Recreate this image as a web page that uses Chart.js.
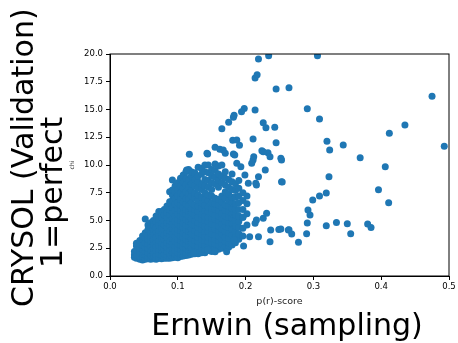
<!DOCTYPE html>
<html>
<head>
<meta charset="utf-8">
<script src="https://cdn.jsdelivr.net/npm/chart.js@4/dist/chart.umd.min.js"></script>
<style>
  html, body { margin: 0; padding: 0; background: #fff; }
  canvas { display: block; }
</style>
</head>
<body>
<canvas id="chart" width="458" height="343"></canvas>
<script>
// tick labels
const xTickLabels = ['0.0', '0.1', '0.2', '0.3', '0.4', '0.5'];
const yTickLabels = ['0.0', '2.5', '5.0', '7.5', '10.0', '12.5', '15.0', '17.5', '20.0'];

// dense cluster, read column by column: [p(r)-score, [chi values]]
const coreColumns = [
    [0.036, [1.7, 1.9, 2.2]],
    [0.039, [1.6, 1.9, 2.3, 2.7, 2.94]],
    [0.044, [1.5, 1.8, 2.1, 2.5, 2.9, 3.2]],
    [0.048, [1.45, 1.75, 2.0, 2.4, 2.8, 3.3, 3.6]],
    [0.052, [1.5, 1.9, 2.2, 2.6, 3.0, 3.5, 3.9, 5.14]],
    [0.056, [1.55, 1.8, 2.1, 2.5, 2.9, 3.3, 3.7, 4.2, 4.6]],
    [0.060, [1.5, 1.9, 2.3, 2.7, 3.1, 3.5, 3.9, 4.4, 4.8]],
    [0.064, [1.55, 1.8, 2.1, 2.5, 2.9, 3.3, 3.8, 4.2, 4.6, 5.0]],
    [0.068, [1.5, 1.9, 2.3, 2.7, 3.1, 3.5, 4.0, 4.4, 4.9, 5.4]],
    [0.072, [1.6, 2.0, 2.4, 2.8, 3.2, 3.7, 4.1, 4.6, 5.1, 5.8]],
    [0.076, [1.55, 1.9, 2.3, 2.6, 3.0, 3.4, 3.9, 4.3, 4.8, 5.3, 5.8]],
    [0.080, [1.6, 2.0, 2.4, 2.8, 3.3, 3.7, 4.2, 4.6, 5.0, 5.5, 6.0]],
    [0.084, [1.6, 1.9, 2.2, 2.6, 3.0, 3.5, 3.9, 4.4, 4.8, 5.3, 5.7, 6.3]],
    [0.088, [1.6, 2.0, 2.4, 2.8, 3.2, 3.6, 4.1, 4.5, 5.0, 5.5, 6.0, 6.7, 7.6]],
    [0.092, [1.65, 2.1, 2.5, 2.9, 3.4, 3.8, 4.3, 4.7, 5.2, 5.7, 6.2, 6.8, 7.3, 7.75, 8.65]],
    [0.096, [1.7, 2.0, 2.3, 2.7, 3.1, 3.6, 4.0, 4.5, 4.9, 5.4, 5.9, 6.5, 7.0, 7.6, 8.1]],
    [0.100, [1.65, 2.1, 2.5, 2.9, 3.3, 3.8, 4.2, 4.7, 5.1, 5.6, 6.1, 6.6, 7.2, 7.8, 8.4]],
    [0.104, [1.75, 2.0, 2.4, 2.8, 3.2, 3.6, 4.1, 4.5, 5.0, 5.4, 5.9, 6.4, 6.9, 7.5, 8.1, 8.8]],
    [0.108, [1.8, 2.2, 2.6, 3.0, 3.5, 3.9, 4.4, 4.8, 5.3, 5.7, 6.2, 6.7, 7.3, 7.9, 8.5, 9.1]],
    [0.112, [1.85, 2.1, 2.5, 2.9, 3.3, 3.7, 4.2, 4.6, 5.1, 5.6, 6.0, 6.5, 7.0, 7.6, 8.2, 8.8, 9.4]],
    [0.116, [1.9, 2.3, 2.7, 3.1, 3.6, 4.0, 4.5, 4.9, 5.4, 5.8, 6.3, 6.9, 7.4, 8.0, 8.6, 9.6]],
    [0.120, [1.95, 2.2, 2.6, 3.0, 3.4, 3.8, 4.3, 4.7, 5.2, 5.7, 6.1, 6.6, 7.2, 7.7, 8.3, 9.0, 9.4]],
    [0.125, [2.0, 2.4, 2.8, 3.2, 3.7, 4.1, 4.6, 5.0, 5.5, 6.0, 6.4, 7.0, 7.5, 8.1, 8.7, 9.3]],
    [0.130, [2.0, 2.3, 2.7, 3.1, 3.5, 3.9, 4.4, 4.8, 5.3, 5.8, 6.3, 6.8, 7.3, 7.9, 8.5, 9.0, 9.8]],
    [0.135, [2.1, 2.5, 2.9, 3.3, 3.8, 4.2, 4.7, 5.1, 5.6, 6.1, 6.6, 7.1, 7.8, 8.3, 9.2, 9.7]],
    [0.140, [2.1, 2.4, 2.8, 3.2, 3.6, 4.0, 4.5, 5.0, 5.4, 5.9, 6.4, 6.9, 7.5, 8.1, 8.7, 9.4, 10.0]],
    [0.145, [2.3, 2.7, 3.1, 3.5, 4.0, 4.4, 4.9, 5.3, 5.8, 6.2, 6.8, 7.3, 8.0, 8.6, 9.3, 10.0]],
    [0.150, [2.2, 2.6, 3.0, 3.4, 3.8, 4.3, 4.7, 5.2, 5.7, 6.1, 6.6, 7.2, 7.8, 8.4, 9.0, 9.6]],
    [0.155, [2.5, 2.9, 3.3, 3.7, 4.2, 4.6, 5.1, 5.5, 6.0, 6.5, 7.0, 8.3, 8.9, 9.5, 10.1]],
    [0.160, [2.4, 2.8, 3.2, 3.6, 4.1, 4.5, 5.0, 5.4, 5.9, 6.4, 6.9, 8.0, 8.6, 9.2, 9.9]],
    [0.165, [2.5, 2.9, 3.3, 3.8, 4.2, 4.7, 5.2, 5.6, 6.2, 6.7, 7.2, 8.4, 9.0, 10.0]],
    [0.170, [2.7, 3.1, 3.5, 4.0, 4.5, 4.9, 5.4, 5.9, 6.4, 7.0, 7.6, 8.2, 8.8, 9.4]],
    [0.175, [2.6, 3.0, 3.4, 3.9, 4.4, 4.8, 5.3, 5.8, 6.3, 6.8, 7.4, 8.0, 8.7]],
    [0.180, [2.8, 3.7, 4.2, 4.7, 5.2, 5.6, 6.1, 6.6, 7.1, 7.8, 8.5, 9.2]],
    [0.185, [3.0, 3.5, 4.0, 4.5, 5.0, 5.5, 6.0, 6.5, 7.1, 7.7, 8.3]],
    [0.190, [3.3, 3.8, 4.4, 4.9, 5.4, 6.0, 6.6, 7.2, 7.9, 8.6]],
    [0.196, [3.6, 5.3, 6.0, 6.8, 7.5]],
    [0.202, [4.6, 5.6, 6.5, 7.2]]
];

// scattered points around the cluster edge: [p(r)-score, chi]
const spreadScores = [
    [0.219, 19.55], [0.234, 19.85], [0.214, 17.84], [0.217, 18.14], [0.245, 16.85],
    [0.198, 15.1], [0.194, 14.8], [0.214, 14.95], [0.183, 14.48], [0.182, 14.3],
    [0.175, 13.85], [0.165, 13.27], [0.226, 13.8], [0.230, 13.36], [0.243, 13.4],
    [0.245, 12.0], [0.211, 12.34], [0.181, 12.22], [0.187, 12.25], [0.191, 11.77],
    [0.155, 11.59], [0.162, 11.41], [0.170, 11.05], [0.144, 10.99], [0.117, 10.96],
    [0.182, 10.99], [0.224, 11.29], [0.233, 11.11], [0.212, 10.75], [0.252, 10.6],
    [0.211, 10.45], [0.209, 10.15], [0.193, 9.85], [0.219, 8.95], [0.199, 9.1],
    [0.215, 8.35], [0.229, 9.55], [0.204, 8.35], [0.216, 8.2], [0.253, 8.5],
    [0.216, 5.05], [0.226, 5.2], [0.231, 5.65], [0.237, 4.14], [0.249, 4.2],
    [0.263, 4.14], [0.214, 4.75], [0.206, 3.54], [0.219, 3.54], [0.236, 3.09],
    [0.197, 2.7], [0.172, 2.19], [0.155, 2.19], [0.144, 2.34], [0.183, 3.24],
    [0.196, 4.3], [0.196, 5.3], [0.123, 2.04], [0.167, 11.35], [0.143, 11.05],
    [0.184, 10.9], [0.226, 11.2], [0.236, 10.75], [0.187, 10.15], [0.113, 9.55]
];

// far outliers
const outlierScores = [
    [0.306, 19.85], [0.264, 16.96], [0.475, 16.2], [0.291, 15.07], [0.309, 14.14],
    [0.435, 13.6], [0.412, 12.85], [0.320, 12.13], [0.344, 11.8], [0.493, 11.7],
    [0.324, 11.35], [0.253, 10.45], [0.369, 10.66], [0.406, 9.85], [0.323, 8.95],
    [0.254, 8.47], [0.396, 7.78], [0.411, 6.6], [0.319, 7.48], [0.309, 7.2],
    [0.299, 6.85], [0.292, 5.95], [0.295, 5.5], [0.291, 4.77], [0.334, 4.83],
    [0.350, 4.71], [0.319, 4.53], [0.380, 4.68], [0.385, 4.38], [0.355, 3.81],
    [0.290, 3.81], [0.252, 4.23], [0.264, 4.17], [0.268, 3.78], [0.278, 3.03]
];

//Build the point list for Chart.js
const points = [];
coreColumns.forEach(col => {
    col[1].forEach(y => points.push({ x: col[0], y: y }));
});
spreadScores.concat(outlierScores).forEach(p => points.push({ x: p[0], y: p[1] }));

const font = "'DejaVu Sans', sans-serif";

//Frame and the two big labels
const extras = {
    id: 'extras',
    afterDatasetsDraw(chart) {
        const ctx = chart.ctx;
        const a = chart.chartArea;
        ctx.save();
        ctx.strokeStyle = '#000';
        ctx.lineWidth = 1;
        ctx.strokeRect(a.left, a.top, a.right - a.left, a.bottom - a.top);

        ctx.fillStyle = '#000';
        ctx.font = '30px ' + font;
        ctx.textBaseline = 'alphabetic';
        ctx.textAlign = 'center';
        ctx.fillText('Ernwin (sampling)', 287, 335);

        ctx.textAlign = 'left';
        ctx.save();
        ctx.translate(33, 307);
        ctx.rotate(-Math.PI / 2);
        ctx.fillText('CRYSOL (Validation)', 0, 0);
        ctx.restore();
        ctx.save();
        ctx.translate(62, 268);
        ctx.rotate(-Math.PI / 2);
        ctx.fillText('1=perfect', 0, 0);
        ctx.restore();
        ctx.restore();
    }
};

new Chart(document.getElementById('chart').getContext('2d'), {
    type: 'scatter',
    data: {
        datasets: [{
            data: points,
            backgroundColor: '#1f77b4',
            borderWidth: 0,
            pointRadius: 3.5,
            pointHoverRadius: 3.5,
            clip: 0
        }]
    },
    options: {
        responsive: false,
        animation: false,
        devicePixelRatio: 1,
        layout: { padding: { top: 54, right: 9, left: 0, bottom: 0 } },
        plugins: {
            legend: { display: false },
            tooltip: { enabled: false }
        },
        scales: {
            x: {
                type: 'linear',
                min: 0,
                max: 0.5,
                afterFit: s => { s.height = 67; },
                ticks: {
                    stepSize: 0.1,
                    padding: 2,
                    color: '#000',
                    font: { family: font, size: 8.5 },
                    callback: (v, i) => xTickLabels[i]
                },
                grid: { display: true, drawOnChartArea: false, drawTicks: true, tickLength: 4, color: '#000' },
                border: { display: true, color: '#000', width: 1 },
                title: {
                    display: true,
                    text: 'p(r)-score',
                    color: '#222',
                    font: { family: font, size: 9.5 },
                    padding: { top: 0, bottom: 36 }
                }
            },
            y: {
                type: 'linear',
                min: 0,
                max: 20,
                afterFit: s => { s.width = 110; },
                ticks: {
                    stepSize: 2.5,
                    padding: 3,
                    color: '#000',
                    font: { family: font, size: 8.5 },
                    callback: (v, i) => yTickLabels[i]
                },
                grid: { display: true, drawOnChartArea: false, drawTicks: true, tickLength: 4, color: '#000' },
                border: { display: true, color: '#000', width: 1 },
                title: {
                    display: true,
                    text: 'chi',
                    color: '#222',
                    font: { family: font, size: 6 },
                    padding: { top: 69, bottom: 0 }
                }
            }
        }
    },
    plugins: [extras]
});
</script>
</body>
</html>
